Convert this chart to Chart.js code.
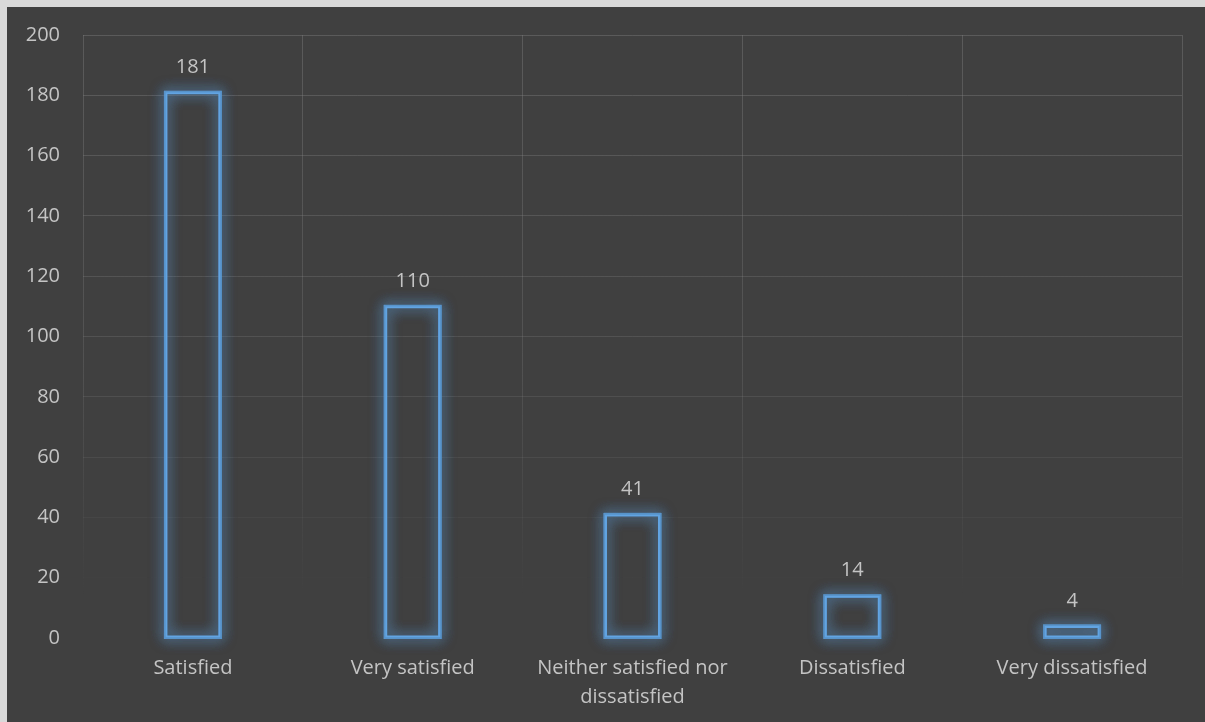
<!DOCTYPE html>
<html>
<head>
<meta charset="utf-8">
<script src="https://cdn.jsdelivr.net/npm/chart.js@4.4.1/dist/chart.umd.min.js"></script>
<style>
  html, body { margin: 0; padding: 0; background: #d9d9d9; width: 1205px; height: 722px; overflow: hidden; }
  #wrap { position: absolute; left: 7px; top: 7px; width: 1198px; height: 715px; background: #404040; }
  canvas { display: block; }
</style>
</head>
<body>
<div id="wrap"><canvas id="c" width="1198" height="715"></canvas></div>
<script>
const categories = ["Satisfied", "Very satisfied", ["Neither satisfied nor", "dissatisfied"], "Dissatisfied", "Very dissatisfied"];
const counts = [181, 110, 41, 14, 4];
const yMin = 0, yMax = 200, yStep = 20;

const FONT = "'Open Sans', 'DejaVu Sans', sans-serif";
const TEXT = "#c4c4c4";
const BLUE = "#5b9bd5";

let gridGrad = null, gridKey = "";
function gridColor(ctx) {
  const chart = ctx.chart;
  const a = chart.chartArea;
  if (!a) return "rgba(128,128,128,0.4)";
  const key = a.top + "_" + a.bottom;
  if (key !== gridKey) {
    const g = chart.ctx.createLinearGradient(0, a.top, 0, a.bottom);
    g.addColorStop(0, "rgba(128,128,128,0.42)");
    g.addColorStop(0.55, "rgba(128,128,128,0.28)");
    g.addColorStop(0.8, "rgba(128,128,128,0.1)");
    g.addColorStop(0.93, "rgba(128,128,128,0)");
    g.addColorStop(1, "rgba(128,128,128,0)");
    gridGrad = g; gridKey = key;
  }
  return gridGrad;
}

const glowPlugin = {
  id: "glow",
  beforeDatasetsDraw(chart) {
    const ctx = chart.ctx;
    const meta = chart.getDatasetMeta(0);
    ctx.save();
    meta.data.forEach(bar => {
      const p = bar.getProps(["x", "y", "base", "width"], true);
      ctx.shadowColor = "rgba(91,155,213,1)";
      ctx.shadowBlur = 14;
      ctx.strokeStyle = "rgba(91,155,213,0.55)";
      ctx.lineWidth = 3;
      for (let k = 0; k < 3; k++) {
        ctx.strokeRect(p.x - p.width / 2, p.y, p.width, p.base - p.y);
      }
    });
    ctx.restore();
  }
};

const labelPlugin = {
  id: "valueLabels",
  afterDatasetsDraw(chart) {
    const ctx = chart.ctx;
    const meta = chart.getDatasetMeta(0);
    ctx.save();
    ctx.fillStyle = TEXT;
    ctx.font = "20px " + FONT;
    ctx.textAlign = "center";
    ctx.textBaseline = "middle";
    meta.data.forEach((bar, i) => {
      const p = bar.getProps(["x", "y"], true);
      ctx.fillText(String(chart.data.datasets[0].data[i]), p.x, p.y - 25);
    });
    ctx.restore();
  }
};

new Chart(document.getElementById("c"), {
  type: "bar",
  data: {
    labels: categories,
    datasets: [{
      data: counts,
      backgroundColor: "rgba(0,0,0,0)",
      borderColor: "#62a4e2",
      borderWidth: 2,
      borderSkipped: false,
      categoryPercentage: 1,
      barPercentage: 0.25
    }]
  },
  options: {
    responsive: false,
    animation: false,
    events: [],
    layout: { padding: { top: 28, right: 23, left: 0, bottom: 0 } },
    plugins: { legend: { display: false }, tooltip: { enabled: false } },
    scales: {
      x: {
        offset: true,
        grid: { offset: true, color: gridColor, lineWidth: 1, drawTicks: false },
        border: { display: false },
        ticks: { color: TEXT, font: { family: FONT, size: 20, lineHeight: 1.45 }, padding: 16, maxRotation: 0, autoSkip: false },
        afterFit(scale) { scale.height = 84; }
      },
      y: {
        min: yMin, max: yMax,
        grid: { color: gridColor, lineWidth: 1, drawTicks: true, tickLength: 20, tickColor: "rgba(0,0,0,0)" },
        border: { display: false },
        ticks: { stepSize: yStep, color: TEXT, font: { family: FONT, size: 20 }, padding: 3 },
        afterFit(scale) { scale.width = 76; }
      }
    }
  },
  plugins: [glowPlugin, labelPlugin]
});
</script>
</body>
</html>
